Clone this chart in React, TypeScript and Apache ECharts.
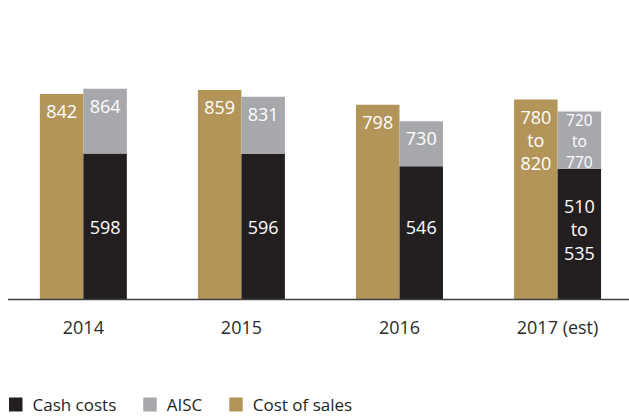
import React, { useEffect, useRef } from "react";
import * as echarts from "echarts";

const years = ["2014", "2015", "2016", "2017 (est)"];
const cashCosts = [598, 596, 546, 535];
const aisc = [864, 831, 730, 770];
const costOfSales = [842, 859, 798, 820];
const cashLabels = ["598", "596", "546", "510\nto\n535"];
const aiscLabels = ["864", "831", "730", "720\nto\n770"];
const salesLabels = ["842", "859", "798", "780\nto\n820"];
const legendNames = ["Cash costs", "AISC", "Cost of sales"];

const GOLD = "#B3955A";
const GRAY = "#A7A8AB";
const BLACK = "#231F20";
const FONT = "'Open Sans', 'Noto Sans', sans-serif";

export default function App() {
  const ref = useRef<HTMLDivElement>(null);
  useEffect(() => {
    if (!ref.current) return;
    const chart = echarts.init(ref.current, undefined, { renderer: "svg" });
    const last = years.length - 1;
    const baseLabel = {
      show: true,
      color: "#ffffff",
      fontSize: 18,
      lineHeight: 22,
      fontFamily: FONT,
    };
    chart.setOption({
      animation: false,
      textStyle: { fontFamily: FONT },
      grid: { left: 4.3, width: 632.3, top: 55.5, height: 243.8 },
      legend: {
        data: legendNames,
        left: 9,
        top: 396,
        padding: 0,
        icon: "rect",
        itemWidth: 13.5,
        itemHeight: 14,
        itemGap: 27,
        textStyle: {
          color: BLACK,
          fontSize: 17,
          lineHeight: 14,
          fontFamily: FONT,
          padding: [0, 0, 0, 5],
        },
      },
      xAxis: {
        type: "category",
        data: years,
        axisLine: { show: false },
        axisTick: { show: false },
        axisLabel: {
          color: "#2b2b2b",
          fontSize: 18,
          lineHeight: 22,
          margin: 17,
          fontFamily: FONT,
        },
      },
      yAxis: {
        type: "value",
        min: 0,
        max: 1000,
        show: false,
        splitLine: { show: false },
      },
      graphic: [
        {
          type: "line",
          shape: { x1: 8, y1: 299.5, x2: 629, y2: 299.5 },
          style: { stroke: "#404040", lineWidth: 1.4 },
          z: 10,
        },
      ],
      series: [
        {
          name: "Cost of sales",
          type: "bar",
          stack: "sales",
          barWidth: 43.5,
          barGap: "0%",
          itemStyle: { color: GOLD },
          label: {
            ...baseLabel,
            position: "insideTop",
            distance: 6,
            formatter: (p: any) => salesLabels[p.dataIndex],
          },
          data: costOfSales.map((v, i) => ({
            value: v,
            label: i === last ? { lineHeight: 23.4, distance: 5.5 } : undefined,
          })),
        },
        {
          name: "Cash costs",
          type: "bar",
          stack: "aisc",
          barWidth: 43.5,
          barGap: "0%",
          itemStyle: { color: BLACK },
          label: {
            ...baseLabel,
            position: "insideBottom",
            distance: 61,
            formatter: (p: any) => cashLabels[p.dataIndex],
          },
          data: cashCosts.map((v, i) => ({
            value: v,
            label: i === last ? { lineHeight: 23.5, distance: 35 } : undefined,
          })),
        },
        {
          name: "AISC",
          type: "bar",
          stack: "aisc",
          z: 3,
          barWidth: 43.5,
          barGap: "0%",
          itemStyle: { color: GRAY },
          label: {
            ...baseLabel,
            position: "insideTop",
            distance: 6,
            formatter: (p: any) => aiscLabels[p.dataIndex],
          },
          data: aisc.map((v, i) => ({
            value: v - cashCosts[i],
            label:
              i === last
                ? { fontSize: 15.5, lineHeight: 21.2, distance: -2.5 }
                : undefined,
          })),
        },
      ],
    });
    return () => chart.dispose();
  }, []);
  return (
    <div
      style={{
        position: "absolute",
        left: 0,
        top: 0,
        width: 629,
        height: 416,
        overflow: "hidden",
      }}
    >
      <div ref={ref} style={{ width: 640, height: 416 }} />
    </div>
  );
}
